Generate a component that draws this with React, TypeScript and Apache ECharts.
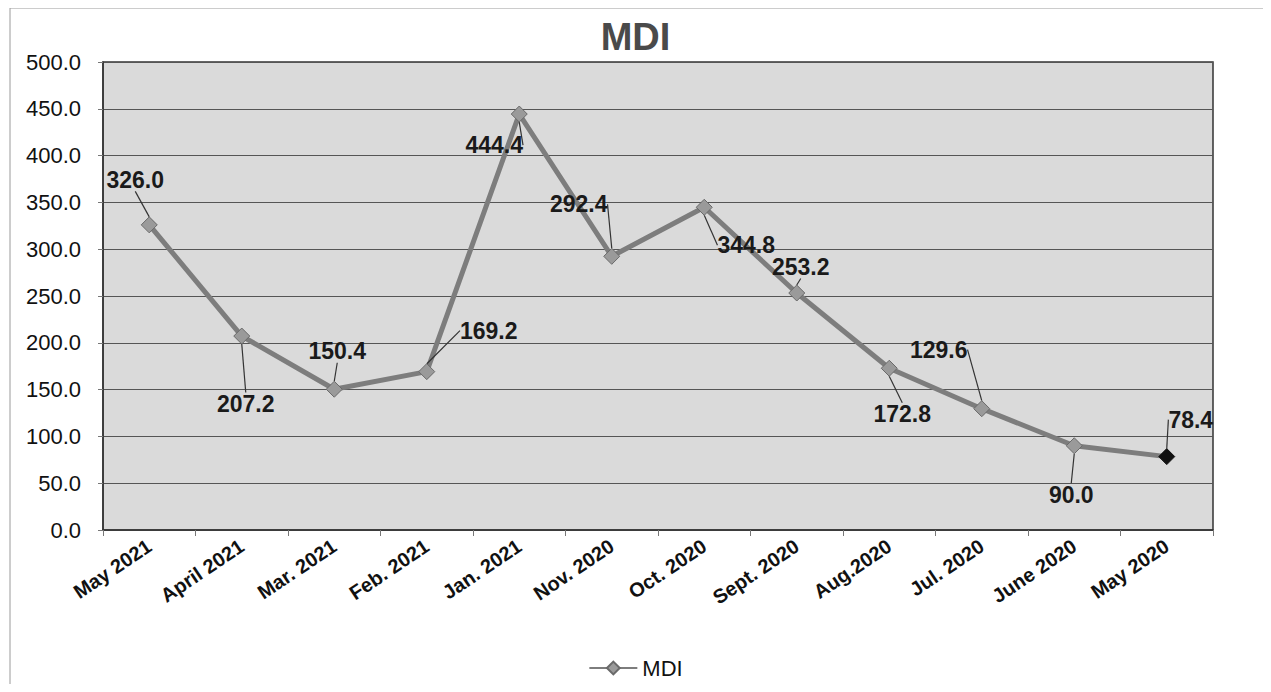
import React, { useEffect, useRef } from "react";
import * as echarts from "echarts";

const categories = [
  "May 2021", "April 2021", "Mar. 2021", "Feb. 2021", "Jan. 2021", "Nov. 2020",
  "Oct. 2020", "Sept. 2020", "Aug.2020", "Jul. 2020", "June 2020", "May 2020",
];
const mdiValues = [326.0, 207.2, 150.4, 169.2, 444.4, 292.4, 344.8, 253.2, 172.8, 129.6, 90.0, 78.4];
const yTicks = [0, 50, 100, 150, 200, 250, 300, 350, 400, 450, 500];

// label offsets (dx, dy) from each point
const labelOffsets: [number, number][] = [
  [-14, -45], [4, 68], [3, -38], [62, -41], [-25, 31], [-33, -52],
  [42, 38], [4, -26], [13, 46], [-43, -59], [-3, 49], [24, -37],
];

export default function App() {
  const ref = useRef<HTMLDivElement>(null);
  useEffect(() => {
    if (!ref.current) return;
    const chart = echarts.init(ref.current, null, { renderer: "svg" });
    chart.setOption({
      animation: false,
      backgroundColor: "#ffffff",
      title: {
        text: "MDI",
        left: "center",
        top: 5,
        textStyle: { fontFamily: "Liberation Sans, Arial", fontSize: 38, fontWeight: "bold", color: "#4a4a4a" },
      },
      graphic: [
        {
          type: "rect",
          shape: { x: 2, y: 0, width: 1254, height: 682 },
          style: { fill: "none", stroke: "#9a9a9a", lineWidth: 1 },
          silent: true,
        },
      ],
      legend: {
        bottom: 0,
        left: "center",
        itemWidth: 48,
        itemHeight: 16,
        data: ["MDI"],
        textStyle: { fontFamily: "Liberation Sans, Arial", fontSize: 22, color: "#111" },
      },
      grid: { left: 95, right: 50, top: 54, bottom: 154, containLabel: false, show: true, backgroundColor: "#dadada", borderColor: "#333", borderWidth: 1.5 },
      xAxis: {
        type: "category",
        data: categories,
        boundaryGap: true,
        axisLine: { lineStyle: { color: "#333", width: 1.5 } },
        axisTick: { show: true, length: 6, lineStyle: { color: "#777" } },
        axisLabel: {
          rotate: 34,
          interval: 0,
          margin: 14,
          fontFamily: "Liberation Sans, Arial",
          fontSize: 20,
          fontWeight: "bold",
          color: "#111",
        },
      },
      yAxis: {
        type: "value",
        min: 0,
        max: 500,
        interval: 50,
        axisLine: { show: true, lineStyle: { color: "#333", width: 1.5 } },
        axisTick: { show: true, length: 5, lineStyle: { color: "#777" } },
        splitLine: { lineStyle: { color: "#555", width: 1 } },
        axisLabel: {
          formatter: (v: number) => (yTicks.includes(v) ? v.toFixed(1) : ""),
          fontFamily: "Liberation Sans, Arial",
          fontSize: 22,
          color: "#111",
          margin: 22,
        },
      },
      series: [
        {
          name: "MDI",
          type: "line",
          data: mdiValues.map((v, i) =>
            i === mdiValues.length - 1
              ? { value: v, itemStyle: { color: "#111", borderColor: "#111" } }
              : v
          ),
          symbol: "diamond",
          symbolSize: 16,
          lineStyle: { color: "#7d7d7d", width: 5 },
          itemStyle: { color: "#9a9a9a", borderColor: "#6a6a6a", borderWidth: 1 },
          label: {
            show: true,
            position: "inside",
            formatter: (p: any) => Number(p.value).toFixed(1),
            fontFamily: "Liberation Sans, Arial",
            fontSize: 23,
            fontWeight: "bold",
            color: "#1a1a1a",
          },
          labelLayout: (p: any) => ({ dx: labelOffsets[p.dataIndex][0], dy: labelOffsets[p.dataIndex][1] }),
          labelLine: { show: true, lineStyle: { color: "#333", width: 1.2 } },
        },
      ],
    });
    return () => chart.dispose();
  }, []);
  return <div ref={ref} style={{ width: 1255, height: 676 }} />;
}
